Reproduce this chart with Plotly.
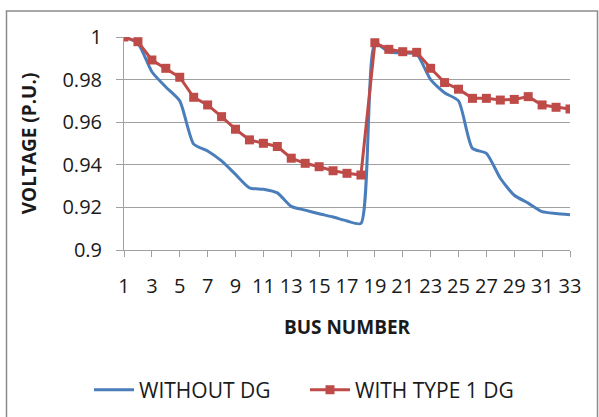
import plotly.graph_objects as go

bus = list(range(1, 34))
without_dg = [1.0, 0.997, 0.9837, 0.9765, 0.9700, 0.9497, 0.9465, 0.9418, 0.9355, 0.9292, 0.9285, 0.9268,
              0.9205, 0.9187, 0.9170, 0.9155, 0.9136, 0.9125,
              0.9968, 0.9931, 0.9925, 0.9919, 0.9800, 0.9738, 0.9700, 0.9477, 0.9454, 0.9337,
              0.9257, 0.9220, 0.9180, 0.9171, 0.9165]
with_dg = [1.0, 0.9978, 0.9892, 0.9853, 0.9811, 0.9717, 0.9681, 0.9626, 0.9567, 0.9517, 0.9501, 0.9486,
           0.9431, 0.9407, 0.9391, 0.9372, 0.9360, 0.9352,
           0.9973, 0.9942, 0.9931, 0.9928, 0.9853, 0.9786, 0.9755, 0.9712, 0.9712, 0.9704,
           0.9707, 0.9720, 0.9681, 0.9670, 0.9662]
x_ticks = list(range(1, 34, 2))
y_ticks = [0.9, 0.92, 0.94, 0.96, 0.98, 1.0]
y_tick_text = ["0.9", "0.92", "0.94", "0.96", "0.98", "1"]

FONT = "Open Sans"
fig = go.Figure()
fig.add_trace(go.Scatter(x=bus, y=without_dg, mode="lines", name="WITHOUT DG", legend="legend",
                         line=dict(color="#4A7EBB", width=3, shape="spline", smoothing=0.6)))
fig.add_trace(go.Scatter(x=bus, y=with_dg, mode="lines+markers", name="WITH TYPE 1 DG", legend="legend2",
                         line=dict(color="#BE4B48", width=3),
                         marker=dict(symbol="square", size=9, color="#BE4B48")))

L, R, T, B = 124, 29, 37, 167
W, H = 599, 417
pw, ph = W - L - R, H - T - B

def px(x):
    return (x - L) / pw

def py(y):
    return (H - B - y) / ph

leg_common = dict(orientation="h", yanchor="middle", y=py(390), xanchor="left",
                  font=dict(size=21), itemwidth=40, bgcolor="rgba(0,0,0,0)")

fig.update_layout(
    width=W, height=H,
    margin=dict(l=L, r=R, t=T, b=B, pad=0, autoexpand=False),
    paper_bgcolor="white", plot_bgcolor="white",
    font=dict(family=FONT, size=19, color="#1a1a1a"),
    showlegend=True,
    legend=dict(x=px(89), **leg_common),
    legend2=dict(x=px(305), **leg_common),
    xaxis=dict(range=[1, 33], tickvals=x_ticks, ticktext=[str(v) for v in x_ticks],
               showgrid=False, zeroline=False, showline=True, linecolor="#a0a0a0", linewidth=1,
               ticks="outside", ticklen=6, tickcolor="#a0a0a0", ticklabelstandoff=12,
               tickfont=dict(size=20), automargin=False,
               title=dict(text="<b>BUS NUMBER</b>", font=dict(size=19), standoff=22)),
    yaxis=dict(range=[0.9, 1.0], tickvals=y_ticks, ticktext=y_tick_text,
               showgrid=True, gridcolor="#a0a0a0", gridwidth=1, zeroline=False,
               showline=True, linecolor="#a0a0a0", linewidth=1,
               ticks="outside", ticklen=7, tickcolor="#a0a0a0", ticklabelstandoff=10,
               tickfont=dict(size=20), automargin=False,
               title=dict(text="<b>VOLTAGE (P.U.)</b>", font=dict(size=19), standoff=20)),
    shapes=[dict(type="rect", xref="paper", yref="paper",
                 x0=px(6.5), x1=px(597.5), y0=py(425), y1=py(11),
                 line=dict(color="#8c8c8c", width=1.5), layer="below")],
)
fig.write_html("out.html", config={"displayModeBar": False},
               post_script="document.body.style.margin='0';document.body.style.overflow='hidden';")
